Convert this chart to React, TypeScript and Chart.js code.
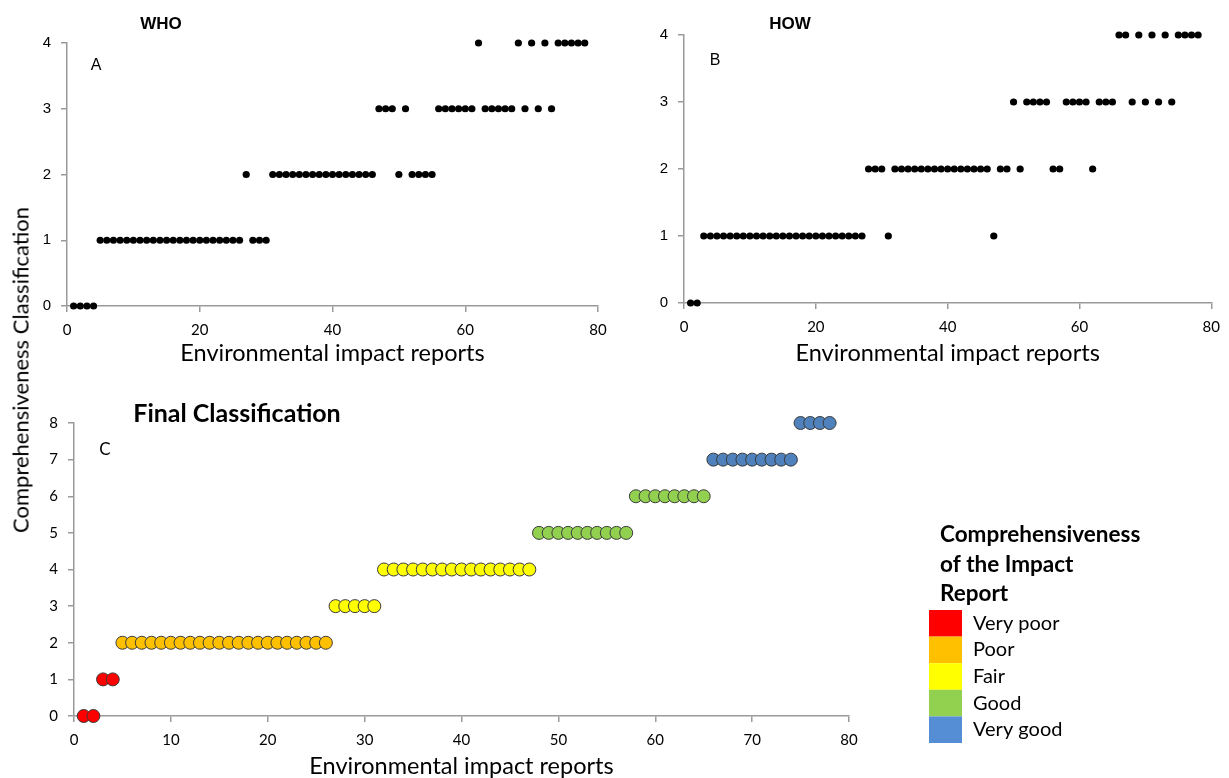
import React, { useEffect, useRef } from "react";
import { Chart, registerables } from "chart.js";

Chart.register(...registerables);

// ---------- DATA ----------
const reportNumbers: number[] = Array.from({ length: 78 }, (_, i) => i + 1);

// Panel A – WHO (reports 1..78)
const whoScores: number[] = [
  0, 0, 0, 0,
  1, 1, 1, 1, 1, 1, 1, 1, 1, 1, 1, 1, 1, 1, 1, 1, 1, 1, 1, 1, 1, 1,
  2,
  1, 1, 1,
  2, 2, 2, 2, 2, 2, 2, 2, 2, 2, 2, 2, 2, 2, 2, 2,
  3, 3, 3,
  2,
  3,
  2, 2, 2, 2,
  3, 3, 3, 3, 3, 3,
  4,
  3, 3, 3, 3, 3,
  4, 3, 4, 3, 4, 3,
  4, 4, 4, 4, 4,
];

// Panel B – HOW (reports 1..78)
const howScores: number[] = [
  0, 0,
  1, 1, 1, 1, 1, 1, 1, 1, 1, 1, 1, 1, 1, 1, 1, 1, 1, 1, 1, 1, 1, 1, 1, 1, 1,
  2, 2, 2,
  1,
  2, 2, 2, 2, 2, 2, 2, 2, 2, 2, 2, 2, 2, 2, 2,
  1,
  2, 2,
  3,
  2,
  3, 3, 3, 3,
  2, 2,
  3, 3, 3, 3,
  2,
  3, 3, 3,
  4, 4,
  3, 4, 3, 4, 3, 4, 3,
  4, 4, 4, 4,
];

// Panel C – Final classification (reports 1..78)
const finalScores: number[] = [
  0, 0,
  1, 1,
  2, 2, 2, 2, 2, 2, 2, 2, 2, 2, 2, 2, 2, 2, 2, 2, 2, 2, 2, 2, 2, 2,
  3, 3, 3, 3, 3,
  4, 4, 4, 4, 4, 4, 4, 4, 4, 4, 4, 4, 4, 4, 4, 4,
  5, 5, 5, 5, 5, 5, 5, 5, 5, 5,
  6, 6, 6, 6, 6, 6, 6, 6,
  7, 7, 7, 7, 7, 7, 7, 7, 7,
  8, 8, 8, 8,
];

const categoryNames: string[] = ["Very poor", "Poor", "Fair", "Good", "Very good"];
const categoryOfScore: number[] = [0, 0, 1, 2, 2, 3, 3, 4, 4];
const pointColors: string[] = ["#FF0000", "#FFC000", "#FFFF00", "#92D050", "#4F81BD"];
const legendColors: string[] = ["#FF0000", "#FFC000", "#FFFF00", "#92D050", "#558ED5"];
const legendTitleLines: string[] = ["Comprehensiveness", "of the Impact", "Report"];

const xTitle = "Environmental impact reports";
const yTitle = "Comprehensiveness Classification";

// ---------- STYLE ----------
const SANS = "Lato, 'Noto Sans', sans-serif";
const ARIAL = "'Liberation Sans', Arial, sans-serif";
const AXIS_COLOR = "#9a9a9a";

const panelTextPlugin = {
  id: "panelText",
  afterDraw(chart: any, _args: any, opts: any) {
    const ctx = chart.ctx;
    (opts.items || []).forEach((t: any) => {
      ctx.save();
      ctx.font = t.font;
      ctx.fillStyle = t.color || "#000";
      ctx.textAlign = t.align || "center";
      ctx.textBaseline = "middle";
      ctx.fillText(t.text, t.x, t.y);
      ctx.restore();
    });
  },
};

const classLegendPlugin = {
  id: "classLegend",
  afterDraw(chart: any, _args: any, o: any) {
    if (!o || !o.names) return;
    const ctx = chart.ctx;
    ctx.save();
    ctx.textAlign = "left";
    ctx.textBaseline = "middle";
    ctx.fillStyle = "#000";
    ctx.font = `bold ${o.titleSize}px ${SANS}`;
    o.titleLines.forEach((line: string, i: number) => {
      ctx.fillText(line, o.titleX, o.titleY + i * o.titleGap);
    });
    o.names.forEach((name: string, i: number) => {
      const top = o.boxTop + i * o.boxH;
      ctx.fillStyle = o.colors[i];
      ctx.fillRect(o.x, top, o.boxW, o.boxH);
      ctx.fillStyle = "#000";
      ctx.font = `${o.labelSize}px ${SANS}`;
      ctx.fillText(name, o.x + o.boxW + 11, top + o.boxH / 2);
    });
    ctx.restore();
  },
};

function axisX(max: number, step: number, tickFont: any, titlePadBottom: number, height: number) {
  return {
    type: "linear",
    min: 0,
    max,
    ticks: { stepSize: step, color: "#000", font: tickFont, padding: 9 },
    grid: { drawOnChartArea: false, drawTicks: true, tickLength: 6, color: AXIS_COLOR, lineWidth: 1.5 },
    border: { color: AXIS_COLOR, width: 1.5 },
    title: {
      display: true,
      text: xTitle,
      color: "#000",
      font: { family: SANS, size: 23.5, lineHeight: 1 },
      padding: { top: 0, bottom: titlePadBottom },
    },
    afterFit: (s: any) => {
      s.height = height;
    },
  };
}

function axisY(max: number, tickFont: any, width: number) {
  return {
    type: "linear",
    min: 0,
    max,
    ticks: { stepSize: 1, color: "#000", font: tickFont, padding: 10 },
    grid: { drawOnChartArea: false, drawTicks: true, tickLength: 6, color: AXIS_COLOR, lineWidth: 1.5 },
    border: { color: AXIS_COLOR, width: 1.5 },
    afterFit: (s: any) => {
      s.width = width;
    },
  };
}

function smallPanel(
  scores: number[],
  name: string,
  yWidth: number,
  padTop: number,
  padRight: number,
  xHeight: number,
  texts: any[]
) {
  return {
    type: "scatter",
    data: {
      datasets: [
        {
          label: name,
          data: reportNumbers.map((x, i) => ({ x, y: scores[i] })),
          backgroundColor: "#000",
          borderColor: "#000",
          borderWidth: 0,
          pointRadius: 3.6,
          pointHoverRadius: 3.6,
          clip: false,
        },
      ],
    },
    options: {
      responsive: false,
      animation: false,
      devicePixelRatio: 1,
      layout: { padding: { top: padTop, right: padRight, left: 0, bottom: 0 } },
      plugins: {
        legend: { display: false },
        tooltip: { enabled: false },
        panelText: { items: texts },
      },
      scales: {
        x: axisX(80, 20, { family: SANS, size: 15 }, 15, xHeight),
        y: axisY(4, { family: ARIAL, size: 15 }, yWidth),
      },
    },
    plugins: [panelTextPlugin],
  };
}

export default function App() {
  const refA = useRef<HTMLCanvasElement>(null);
  const refB = useRef<HTMLCanvasElement>(null);
  const refC = useRef<HTMLCanvasElement>(null);

  useEffect(() => {
    const charts: Chart[] = [];

    charts.push(
      new Chart(
        refA.current as HTMLCanvasElement,
        smallPanel(whoScores, "WHO", 67, 43, 22, 74, [
          { text: "WHO", x: 161, y: 24, font: `bold 17px ${ARIAL}` },
          { text: "A", x: 96, y: 66, font: `16px ${ARIAL}` },
        ]) as any
      )
    );

    charts.push(
      new Chart(
        refB.current as HTMLCanvasElement,
        smallPanel(howScores, "HOW", 64, 35, 12, 77, [
          { text: "HOW", x: 170, y: 24, font: `bold 17px ${ARIAL}` },
          { text: "B", x: 95, y: 61, font: `16px ${ARIAL}` },
        ]) as any
      )
    );

    const finalDatasets = categoryNames.map((name, c) => {
      const pts: { x: number; y: number }[] = [];
      reportNumbers.forEach((x, i) => {
        if (categoryOfScore[finalScores[i]] === c) pts.push({ x, y: finalScores[i] });
      });
      return {
        label: name,
        data: pts,
        backgroundColor: pointColors[c],
        borderColor: "#3a3a3a",
        borderWidth: 1,
        pointRadius: 6.5,
        pointHoverRadius: 6.5,
        clip: false,
      };
    });

    charts.push(
      new Chart(refC.current as HTMLCanvasElement, {
        type: "scatter",
        data: { datasets: finalDatasets },
        options: {
          responsive: false,
          animation: false,
          devicePixelRatio: 1,
          layout: { padding: { top: 43, right: 380, left: 0, bottom: 0 } },
          plugins: {
            legend: { display: false },
            tooltip: { enabled: false },
            panelText: {
              items: [
                { text: "Final Classification", x: 237, y: 34, font: `bold 25px ${SANS}` },
                { text: "C", x: 105, y: 70, font: `17px ${SANS}` },
              ],
            },
            classLegend: {
              names: categoryNames,
              colors: legendColors,
              titleLines: legendTitleLines,
              titleSize: 22.5,
              titleX: 940,
              titleY: 155,
              titleGap: 29.5,
              x: 929,
              boxTop: 230,
              boxW: 33,
              boxH: 26.6,
              labelSize: 20,
            },
          },
          scales: {
            x: axisX(80, 10, { family: SANS, size: 15 }, 0, 62),
            y: axisY(8, { family: SANS, size: 15 }, 74),
          },
        } as any,
        plugins: [panelTextPlugin, classLegendPlugin],
      } as any)
    );

    return () => charts.forEach((c) => c.destroy());
  }, []);

  return (
    <div
      style={{
        position: "absolute",
        left: 0,
        top: 0,
        width: 1229,
        height: 778,
        background: "#fff",
        overflow: "hidden",
      }}
    >
      <canvas ref={refA} width={620} height={380} style={{ position: "absolute", left: 0, top: 0 }} />
      <canvas ref={refB} width={609} height={380} style={{ position: "absolute", left: 620, top: 0 }} />
      <canvas ref={refC} width={1229} height={398} style={{ position: "absolute", left: 0, top: 380 }} />
      <div
        style={{
          position: "absolute",
          left: 20,
          top: 370,
          transform: "translate(-50%, -50%) rotate(-90deg)",
          whiteSpace: "nowrap",
          font: `22px ${SANS}`,
          color: "#000",
        }}
      >
        {yTitle}
      </div>
    </div>
  );
}
